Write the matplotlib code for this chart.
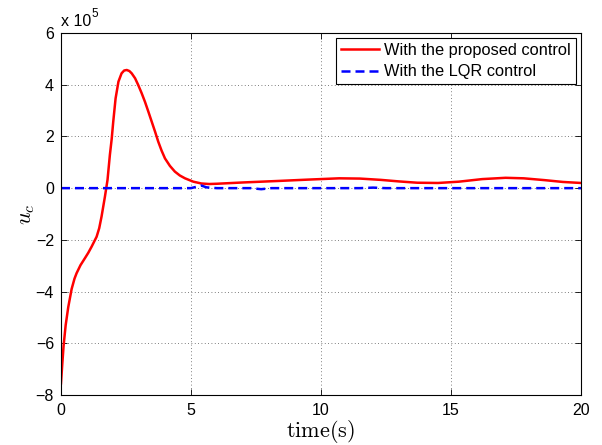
#!/usr/bin/env python3
import matplotlib
matplotlib.use("Agg")
import matplotlib.pyplot as plt
from matplotlib.ticker import FuncFormatter

plt.rcParams["font.family"] = ["Liberation Sans", "DejaVu Sans"]
plt.rcParams["mathtext.fontset"] = "cm"

# proposed control
t_proposed = [0, 0.05, 0.1, 0.18, 0.28, 0.41, 0.52, 0.6, 0.75, 0.92, 1.05, 1.18, 1.37,
              1.47, 1.56, 1.69, 1.79, 1.88, 1.95, 2.01, 2.10, 2.21, 2.33, 2.43, 2.53,
              2.63, 2.72, 2.85, 2.97, 3.1, 3.23, 3.36, 3.49, 3.62, 3.74, 3.87, 4.0,
              4.19, 4.38, 4.57, 4.77, 5.09, 5.4, 5.7, 6.0, 7.0, 8.4, 9.5, 10.7, 11.5,
              12.3, 13.0, 13.7, 14.5, 15.3, 16.2, 17.1, 17.8, 18.6, 19.3, 20.0]
u_proposed = [-7.55e5, -6.8e5, -6.1e5, -5.3e5, -4.6e5, -3.9e5, -3.5e5, -3.29e5,
              -2.98e5, -2.71e5, -2.5e5, -2.26e5, -1.88e5, -1.55e5, -1.1e5, -0.33e5,
              0.32e5, 1.28e5, 1.9e5, 2.57e5, 3.47e5, 4.12e5, 4.44e5, 4.55e5, 4.57e5,
              4.53e5, 4.44e5, 4.25e5, 3.99e5, 3.68e5, 3.34e5, 2.96e5, 2.57e5, 2.18e5,
              1.80e5, 1.45e5, 1.15e5, 0.86e5, 0.64e5, 0.49e5, 0.38e5, 0.25e5, 0.18e5,
              0.16e5, 0.17e5, 0.22e5, 0.28e5, 0.33e5, 0.38e5, 0.37e5, 0.32e5, 0.26e5,
              0.21e5, 0.2e5, 0.25e5, 0.35e5, 0.4e5, 0.38e5, 0.31e5, 0.24e5, 0.2e5]

# LQR control
t_lqr = [0, 5.0, 5.4, 5.6, 6.0, 7.3, 7.7, 8.1, 11.5, 12.0, 12.5, 20.0]
u_lqr = [0, 0, 0.1e5, 0.03e5, 0, 0, -0.04e5, 0, 0, 0.02e5, 0, 0]

fig = plt.figure(figsize=(6.02, 4.45), dpi=100)
ax = fig.add_axes([0.1013, 0.1124, 0.8638, 0.8134])

ax.plot(t_proposed, u_proposed, color="red", linewidth=1.8, label="With the proposed control")
ax.plot(t_lqr, u_lqr, color="blue", linestyle="--", dashes=(3.6, 2.0), linewidth=1.8,
        label="With the LQR control")

ax.set_xlim(0, 20)
ax.set_ylim(-8e5, 6e5)
ax.set_xticks([0, 5, 10, 15, 20])
ax.set_yticks([-8e5, -6e5, -4e5, -2e5, 0, 2e5, 4e5, 6e5])
ax.yaxis.set_major_formatter(FuncFormatter(lambda v, p: "{:g}".format(v / 1e5).replace("-", "\u2212")))
ax.tick_params(direction="in", top=True, right=True, labelsize=11.5, length=4, width=0.6)
ax.tick_params(axis="x", pad=6)
ax.tick_params(axis="y", pad=5)
ax.grid(True, linestyle=(0, (1, 3)), color="#555555", linewidth=0.6)
for sp in ax.spines.values():
    sp.set_linewidth(0.8)

ax.set_xlabel(r"$\mathrm{time(s)}$", fontsize=16, labelpad=0)
ax.set_ylabel(r"$u_c$", fontsize=16, labelpad=-1)

fig.text(61 / 602, 1 - 26 / 445, "x 10", fontsize=11.5, ha="left", va="baseline")
fig.text(91 / 602, 1 - 17 / 445, "5", fontsize=8.5, ha="left", va="baseline")

leg = ax.legend(loc="upper right", fancybox=False, framealpha=1, edgecolor="black",
                fontsize=11.8, borderaxespad=0.3, handlelength=2.3, borderpad=0.3,
                labelspacing=0.4, handletextpad=0.35)
leg.get_frame().set_linewidth(0.8)

plt.savefig("out.png", dpi=100)
